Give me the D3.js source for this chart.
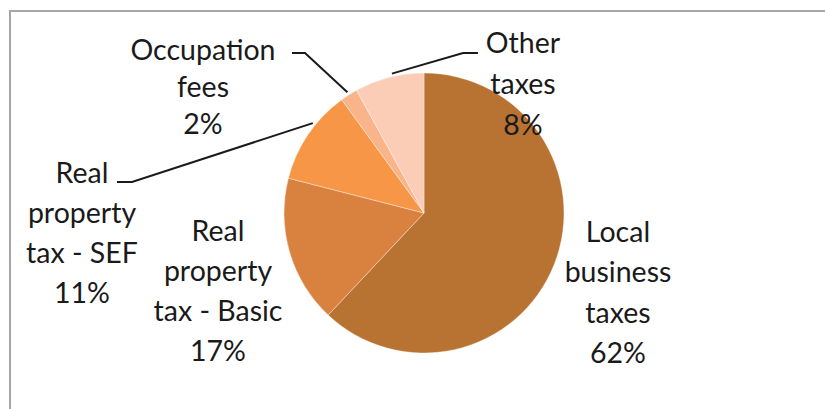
<!DOCTYPE html>
<html>
<head>
<meta charset="utf-8">
<script src="https://cdn.jsdelivr.net/npm/d3@7"></script>
<style>
  html, body { margin: 0; padding: 0; background: #fff; }
  svg { display: block; }
</style>
</head>
<body>
<svg id="chart" width="825" height="409"></svg>
<script>
// Revenue sources, share of total (%)
const categories = ["Local business taxes", "Real property tax - Basic", "Real property tax - SEF", "Occupation fees", "Other taxes"];
const values = [62, 17, 11, 2, 8];
const colors = ["#B87333", "#D9823F", "#F79646", "#F9B48A", "#FBCDB7"];
// label text lines per slice
const labelLines = [
  ["Local", "business", "taxes"],
  ["Real", "property", "tax - Basic"],
  ["Real", "property", "tax - SEF"],
  ["Occupation", "fees"],
  ["Other", "taxes"]
];

const svg = d3.select("#chart");
const W = 825, H = 409;

// chart area frame
svg.append("rect")
  .attr("x", 10).attr("y", 11)
  .attr("width", W).attr("height", H)
  .attr("fill", "#fff")
  .attr("stroke", "#a6a6a6").attr("stroke-width", 2);

const cx = 424, cy = 213, R = 140;
const g = svg.append("g").attr("transform", `translate(${cx},${cy})`);

const pie = d3.pie().sort(null).value(d => d)(values);
const arc = d3.arc().innerRadius(0).outerRadius(R);

g.selectAll("path.slice")
  .data(pie)
  .join("path")
  .attr("class", "slice")
  .attr("d", arc)
  .attr("fill", (d, i) => colors[i])
  .attr("stroke", "#fff")
  .attr("stroke-width", 0.6)
  .attr("stroke-opacity", 0.6);

// label placement (centre x, first line centre y, line step)
const labelPos = [
  { x: 618, y: 232, lh: 40.5 },
  { x: 218, y: 231, lh: 40 },
  { x: 82,  y: 173, lh: 40 },
  { x: 203, y: 50,  lh: 37 },
  { x: 523, y: 43,  lh: 41 }
];

const font = "Lato, 'Open Sans', sans-serif";
pie.forEach((d, i) => {
  const p = labelPos[i];
  const lines = labelLines[i].concat([values[i] + "%"]);
  const t = svg.append("text")
    .attr("text-anchor", "middle")
    .attr("font-family", font)
    .attr("font-size", 28.5)
    .attr("fill", "#1a1a1a");
  lines.forEach((s, k) => {
    t.append("tspan")
      .attr("x", p.x)
      .attr("y", p.y + k * p.lh)
      .attr("dy", "0.35em")
      .text(s);
  });
});

// leader lines for the labels placed away from their slices
function edgePoint(i, frac) {
  const d = pie[i];
  const a = d.startAngle + (d.endAngle - d.startAngle) * frac;
  return [cx + R * Math.sin(a), cy - R * Math.cos(a)];
}
const leaders = [
  { i: 2, pts: [[117, 182], [132, 182]], frac: 0.62 },
  { i: 3, pts: [[292, 53], [305, 53]], frac: 0.5 },
  { i: 4, pts: [[478, 53], [463, 53]], frac: 0.55 }
];
leaders.forEach(L => {
  const e = edgePoint(L.i, L.frac);
  // stop just short of the slice edge
  const dx = e[0] - cx, dy = e[1] - cy, len = Math.hypot(dx, dy);
  const end = [cx + dx * (len + 3) / len, cy + dy * (len + 3) / len];
  svg.append("path")
    .attr("d", d3.line()(L.pts.concat([end])))
    .attr("fill", "none")
    .attr("stroke", "#1a1a1a")
    .attr("stroke-width", 2);
});
</script>
</body>
</html>
